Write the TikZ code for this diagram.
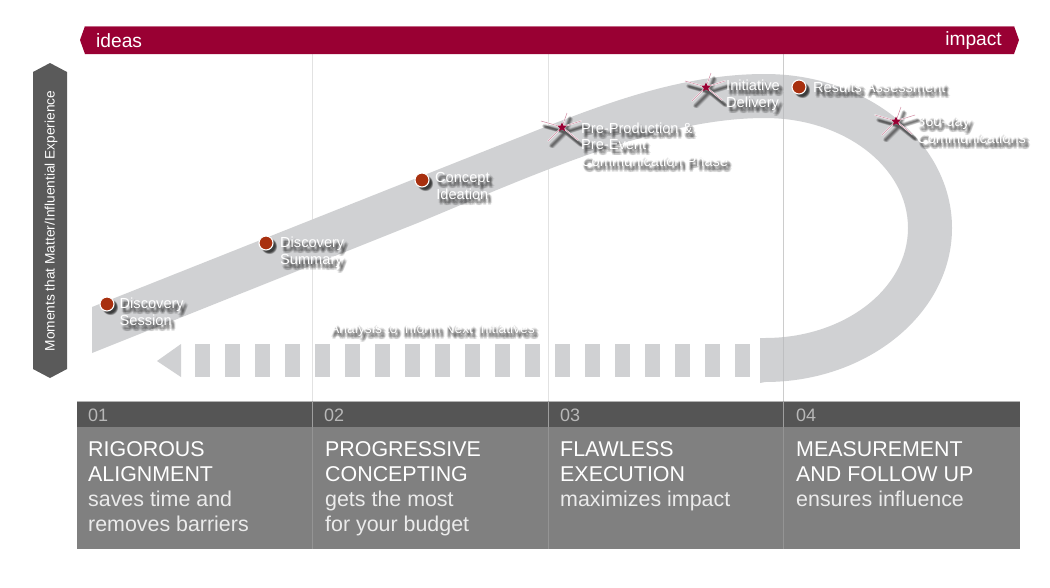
\documentclass[tikz,border=0pt]{standalone}
\usepackage{fontspec}
\setmainfont{Liberation Sans}
\definecolor{crim}{HTML}{990033}
\definecolor{band}{HTML}{D0D1D3}
\definecolor{headgray}{HTML}{555555}
\definecolor{bodygray}{HTML}{808080}
\definecolor{sidegray}{HTML}{5A5A5A}
\definecolor{dotred}{HTML}{A8300F}
\tikzset{
  lbltxt/.style={text=white,align=left,anchor=west,inner sep=0pt,font=\fontsize{14.6}{16.6}\selectfont},
  lblctr/.style={lbltxt,align=center},
  lblsh/.style={text=black,text opacity=.075},
  band shape/.style={fill=band,draw=none},
  guide/.style={draw=black!45,opacity=.25,line width=.8pt},
  cellnum/.style={text=white!72!black,anchor=west,inner sep=0pt,font=\fontsize{18}{20}\selectfont},
  cellhead/.style={text=white,anchor=north west,align=left,inner sep=0pt,font=\fontsize{21.4}{25.2}\selectfont},
  cellsub/.style={text=white!92!black,anchor=north west,align=left,inner sep=0pt,font=\fontsize{21.4}{25.2}\selectfont},
}
% blurred drop shadow + text
\newcommand{\shlabel}[5]{%
  \foreach \dx/\dy [count=\k] in {3/4,4/4,2/4,3/5,3/3,4/5,2/5,4/3,2/3,3/4,5/4,1/4,3/6,3/2,4/6,2/6}{
    \node[#1,lblsh] (#2s\k) at (#3+\dx,#4+\dy) {#5};
  }
  \node[#1] (#2) at (#3,#4) {#5};
}
\newcommand{\reddot}[3]{%
  \foreach \dx/\dy [count=\k] in {3/3,4/3,3/4,2/3,3/2,4/4}{
    \fill[black,opacity=.18] (#2+\dx,#3+\dy) circle (7);
  }
  \node[circle,fill=dotred,draw=white,line width=1.1pt,minimum size=14pt,inner sep=0pt] (#1) at (#2,#3) {};
}
\newcommand{\spark}[3]{%
  \foreach \dx/\dy in {3/5,4/5,3/6,4/6,2/5,3/4,5/6}{
    \begin{scope}[shift={(#2+\dx,#3+\dy)}]
      \draw[black,opacity=.11,line width=2.6pt,line cap=round]
        (0,0)--(5,-14) (0,0)--(19,-6) (0,0)--(16,13) (0,0)--(-14,14) (0,0)--(-21,-6);
    \end{scope}
  }
  \begin{scope}[shift={(#2,#3)}]
    \draw[white,line width=1.4pt,line cap=round]
      (0,0)--(5,-14) (0,0)--(19,-6) (0,0)--(16,13) (0,0)--(-14,14) (0,0)--(-21,-6);
    \draw[crim!45!white,line width=.5pt]
      (0,0)--(5,-14) (0,0)--(19,-6) (0,0)--(16,13) (0,0)--(-14,14) (0,0)--(-21,-6);
    \fill[crim] (0,-4.5)--(1.4,-1.4)--(4.5,-1.2)--(2.3,1)--(2.9,4)--(0,2.5)--(-2.9,4)--(-2.3,1)--(-4.5,-1.2)--(-1.4,-1.4)--cycle;
  \end{scope}
  \coordinate (#1) at (#2,#3);
}
\begin{document}
\begin{tikzpicture}[x=1pt,y=-1pt]
\useasboundingbox (0,0) rectangle (1050,587);
\fill[white] (0,0) rectangle (1050,587);

% guides
\draw[guide] (312,54)--(312,401);
\draw[guide] (548,54)--(548,401);
\draw[guide] (783,54)--(783,401);

% band
\path[band shape] (92,307)--(520,137)
  .. controls (600,105) and (680,74) .. (765,74)
  .. controls (868,74) and (952,143) .. (952,228)
  .. controls (952,313) and (868,382) .. (765,382)
  -- (760,383) -- (760,338) -- (765,338)
  .. controls (844,338) and (908,289) .. (908,228)
  .. controls (908,167) and (844,118) .. (765,118)
  .. controls (660,118) and (540,172) .. (420,222)
  -- (92,353) -- cycle;
\draw[guide] (783,54)--(783,401);

% dashed return arrow
\fill[band] (157,361)--(181,344)--(181,377)--cycle;
\foreach \k in {0,...,18}{
  \fill[band] (195+30*\k,344) rectangle (210+30*\k,377);
}

% top bar
\fill[crim] (85,26)--(1014,26)--(1019,40)--(1014,54)--(85,54)--(80,40)--cycle;
\draw[crim!60!white,line width=.7pt] (85,26.4)--(1014,26.4);
\node[text=white,anchor=west,inner sep=0pt,font=\fontsize{19.2}{21}\selectfont] (ideas) at (96,41) {ideas};
\node[text=white,anchor=east,inner sep=0pt,font=\fontsize{19.2}{21}\selectfont] (impact) at (1002,41) {impact};

% side bar
\fill[sidegray] (50,63)--(67,72)--(67,369)--(50,378)--(33,369)--(33,72)--cycle;
\node[text=white,rotate=90,inner sep=0pt,font=\fontsize{13.7}{15}\selectfont] (moments) at (51,221) {Moments that Matter/Influential Experience};

% table
\fill[headgray] (77,401) rectangle (1020,427);
\fill[bodygray] (77,427) rectangle (1020,549);
\draw[white!70!black,line width=.6pt] (77,401)--(1020,401);
\foreach \xx in {312,548,783}{
  \draw[white!62!black,line width=.7pt] (\xx,401)--(\xx,427);
  \draw[white!58!black,line width=.7pt] (\xx,427)--(\xx,549);
}
\node[cellnum] (n1) at (88,415) {01};
\node[cellnum] (n2) at (324,415) {02};
\node[cellnum] (n3) at (560,415) {03};
\node[cellnum] (n4) at (796,415) {04};

\node[cellhead] (h1) at (88,441) {RIGOROUS\\ALIGNMENT};
\node[cellhead] (h2) at (325,441) {PROGRESSIVE\\CONCEPTING};
\node[cellhead] (h3) at (560,441) {FLAWLESS\\EXECUTION};
\node[cellhead] (h4) at (796,441) {MEASUREMENT\\AND FOLLOW UP};

\node[cellsub] (s1) at (88,491) {saves time and\\removes barriers};
\node[cellsub] (s2) at (325,491) {gets the most\\for your budget};
\node[cellsub] (s3) at (560,491) {maximizes impact};
\node[cellsub] (s4) at (796,491) {ensures influence};

% markers
\reddot{d1}{107}{304}
\reddot{d2}{266}{243}
\reddot{d3}{422}{180}
\reddot{d4}{799}{87}
\spark{p1}{562}{127}
\spark{p2}{706}{87}
\spark{p3}{896}{121}

% labels
\shlabel{lbltxt}{l1}{119.5}{312}{Discovery\\Session}
\shlabel{lbltxt}{l2}{280}{252}{Discovery\\ Summary}
\shlabel{lblctr}{l3}{435}{186}{Concept\\Ideation}
\shlabel{lbltxt}{l4}{581}{144.5}{Pre-Production \&\\Pre-Event\\Communication Phase}
\shlabel{lbltxt}{l5}{726}{95}{Initiative\\Delivery}
\shlabel{lbltxt}{l6}{813}{87}{Results Assessment}
\shlabel{lbltxt}{l7}{917}{129.5}{360-day\\Communications}
\shlabel{lbltxt,font=\fontsize{13.9}{15}\selectfont}{l8}{330}{330}{Analysis to Inform Next Initiatives}
\end{tikzpicture}
\end{document}
